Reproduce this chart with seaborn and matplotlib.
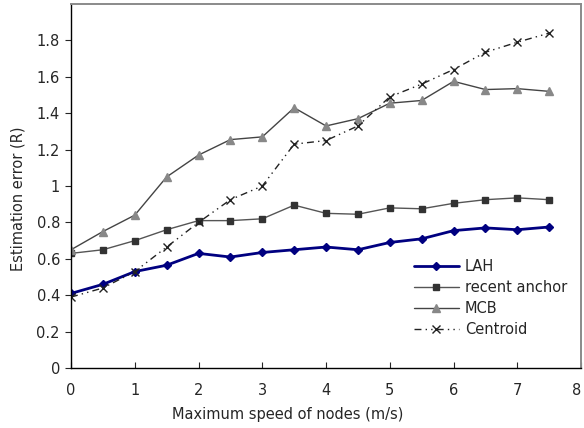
import numpy as np
import pandas as pd
import matplotlib
matplotlib.use("Agg")
import matplotlib.pyplot as plt
import matplotlib.transforms as mtransforms
import seaborn as sns

speed = [0, 0.5, 1, 1.5, 2, 2.5, 3, 3.5, 4, 4.5, 5, 5.5, 6, 6.5, 7, 7.5]
lah = [0.41, 0.46, 0.53, 0.565, 0.63, 0.61, 0.635, 0.65, 0.665, 0.65, 0.69, 0.71, 0.755, 0.77, 0.76, 0.775]
recent = [0.63, 0.65, 0.70, 0.76, 0.81, 0.81, 0.82, 0.895, 0.85, 0.845, 0.88, 0.875, 0.905, 0.925, 0.935, 0.925]
mcb = [0.65, 0.75, 0.84, 1.05, 1.17, 1.255, 1.27, 1.43, 1.33, 1.37, 1.455, 1.47, 1.575, 1.53, 1.535, 1.52]
centroid = [0.39, 0.44, 0.53, 0.665, 0.80, 0.925, 1.0, 1.23, 1.25, 1.33, 1.49, 1.56, 1.64, 1.735, 1.79, 1.84]
series_names = ["LAH", "recent anchor", "MCB", "Centroid"]
y_ticks = [0, 0.2, 0.4, 0.6, 0.8, 1.0, 1.2, 1.4, 1.6, 1.8]
y_tick_labels = ["0", "0.2", "0.4", "0.6", "0.8", "1", "1.2", "1.4", "1.6", "1.8"]
x_ticks = [0, 1, 2, 3, 4, 5, 6, 7, 8]

df = pd.concat([
    pd.DataFrame({"speed": speed, "err": v, "method": n})
    for n, v in zip(series_names, [lah, recent, mcb, centroid])
])

sns.set_style("white")
plt.rcParams['font.family'] = ['DejaVu Sans']
FS = 10.5

fig = plt.figure(figsize=(5.84, 4.28), dpi=100)
ax = fig.add_axes([0.1216, 0.140, 0.8734, 0.8507])

styles = {
    "LAH": dict(color="#000080", lw=2.0, marker="D", ms=4.5, mfc="#000080", mec="#000080", ls="-"),
    "recent anchor": dict(color="#555555", lw=1.0, marker="s", ms=5, mfc="#333333", mec="#333333", ls="-"),
    "MCB": dict(color="#444444", lw=1.0, marker="^", ms=6, mfc="#888888", mec="#888888", ls="-"),
    "Centroid": dict(color="#222222", lw=1.0, marker="x", ms=6, mfc="#222222", mec="#222222", ls=(0, (5, 3, 1, 3, 1, 3))),
}
for name in series_names:
    s = styles[name]
    sub = df[df.method == name]
    sns.lineplot(data=sub, x="speed", y="err", ax=ax, label=name,
                 color=s["color"], linewidth=s["lw"], marker=s["marker"],
                 markersize=s["ms"], markerfacecolor=s["mfc"],
                 markeredgecolor=s["mec"], linestyle=s["ls"],
                 markeredgewidth=1.0)

ax.set_xlim(0, 8)
ax.set_ylim(0, 2.0)
ax.set_xticks(x_ticks)
ax.set_yticks(y_ticks)
ax.set_yticklabels(y_tick_labels)
ax.set_xlabel("Maximum speed of nodes (m/s)", fontsize=FS)
ax.set_ylabel("Estimation error (R)", fontsize=FS)
ax.xaxis.set_label_coords(0.425, -0.108)
ax.yaxis.set_label_coords(-0.09, 0.464)
ax.tick_params(axis="x", direction="in", length=4, labelsize=FS, pad=11, width=0.8)
ax.tick_params(axis="y", direction="out", length=4, labelsize=FS, pad=4, width=0.8)
ax.tick_params(bottom=True, left=True)
for sp in ["left", "bottom"]:
    ax.spines[sp].set_color("black")
    ax.spines[sp].set_linewidth(1.0)
for sp in ["top", "right"]:
    ax.spines[sp].set_visible(True)
    ax.spines[sp].set_color("#8a8a8a")
    ax.spines[sp].set_linewidth(1.4)

# nudge last x tick label so it stays inside the canvas
last = ax.get_xticklabels()[-1]
last.set_transform(last.get_transform() +
                   mtransforms.ScaledTranslation(-4 / 100, 0, fig.dpi_scale_trans))

leg = ax.legend(loc="upper left", bbox_to_anchor=(0.672, 0.30), frameon=False,
                fontsize=FS, handlelength=3.1, handletextpad=0.4,
                labelspacing=0.42, borderaxespad=0.0, borderpad=0.0)

fig.savefig("out.png", dpi=100)
